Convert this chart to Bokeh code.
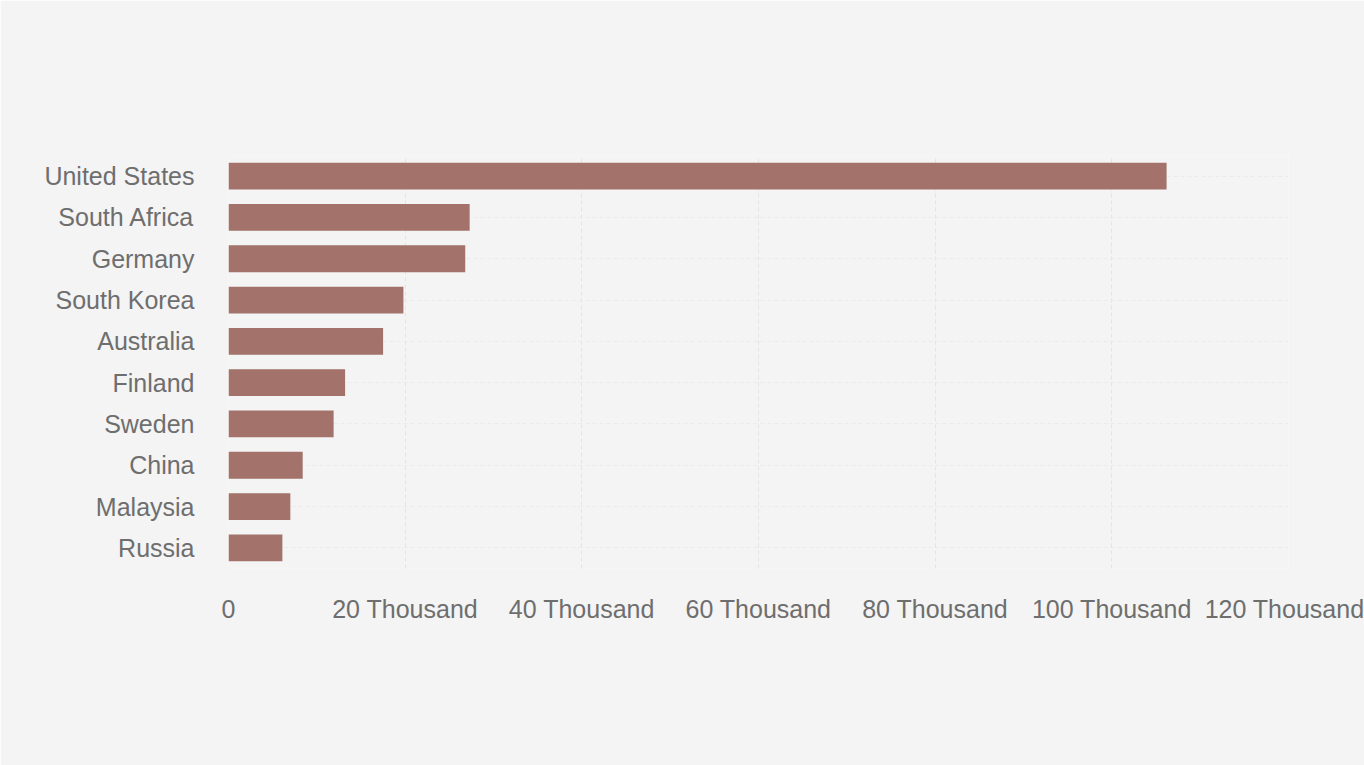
from bokeh.plotting import figure
from bokeh.models import Range1d, CustomJSTickFormatter
from bokeh.embed import file_html
from bokeh.resources import INLINE

# countries, top to bottom
countries = [
    "United States",
    "South Africa",
    "Germany",
    "South Korea",
    "Australia",
    "Finland",
    "Sweden",
    "China",
    "Malaysia",
    "Russia",
]
values = [106200, 27300, 26800, 19800, 17500, 13200, 11900, 8400, 7000, 6100]

BG = "#f4f4f4"
BAR = "#a2726b"
TEXT = "#6e6e6e"


def create_figure():
    return figure(
        width=1364,
        height=765,
        y_range=list(reversed(countries)),
        x_range=Range1d(0, 120000),
        output_backend="svg",
        toolbar_location=None,
        tools="",
        background_fill_color=BG,
        border_fill_color=BG,
        min_border_left=228,
        min_border_right=76,
        min_border_top=155,
        min_border_bottom=197,
    )


def add_bars(p):
    p.hbar(
        y=countries,
        right=values,
        left=0,
        height=0.65,
        fill_color=BAR,
        line_color=None,
    )


def style_axes(p):
    p.outline_line_color = None
    p.xaxis.ticker = [0, 20000, 40000, 60000, 80000, 100000, 120000]
    p.xaxis.formatter = CustomJSTickFormatter(
        code="return tick == 0 ? '0' : (tick / 1000) + ' Thousand';"
    )
    for ax in (p.xaxis, p.yaxis):
        ax.axis_line_color = None
        ax.major_tick_line_color = None
        ax.minor_tick_line_color = None
        ax.major_label_text_font = "Liberation Sans"
        ax.major_label_text_font_size = "25px"
        ax.major_label_text_color = TEXT
    p.xaxis.major_label_standoff = 20
    p.yaxis.major_label_standoff = 28

    p.xgrid.grid_line_color = "#e4e4e4"
    p.xgrid.grid_line_dash = "4 3"
    p.ygrid.grid_line_color = "#ebebeb"
    p.ygrid.grid_line_dash = "4 3"


p = create_figure()
add_bars(p)
style_axes(p)

open("out.html", "w").write(file_html(p, INLINE))
